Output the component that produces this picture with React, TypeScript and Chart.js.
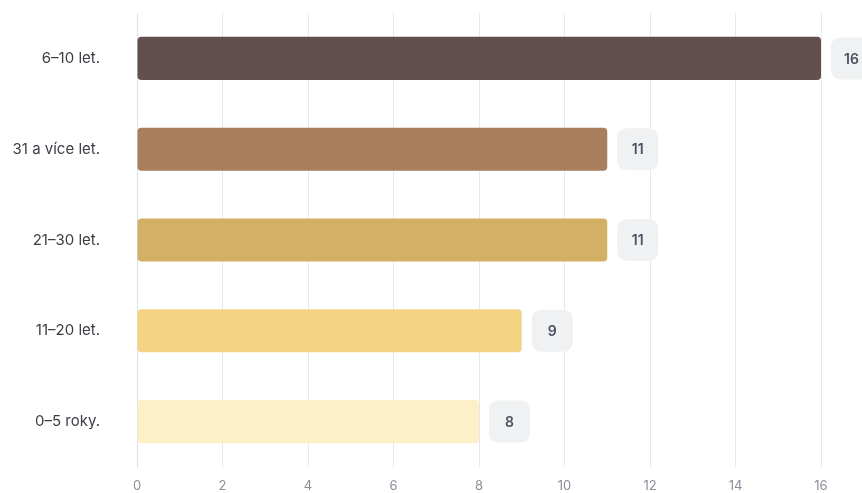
import React, { useEffect, useRef } from "react";
import { Chart, registerables } from "chart.js";

Chart.register(...registerables);

const categories = ["6–10 let.", "31 a více let.", "21–30 let.", "11–20 let.", "0–5 roky."];
const values = [16, 11, 11, 9, 8];
const barColors = ["#634f4d", "#a87e5c", "#d4b066", "#f5d384", "#fdefc8"];
const xTicks = [0, 2, 4, 6, 8, 10, 12, 14, 16];

const FONT = "Inter, 'Noto Sans', 'DejaVu Sans', sans-serif";

const valueBoxPlugin = {
  id: "valueBox",
  afterDatasetsDraw(chart: any) {
    const ctx = chart.ctx;
    const meta = chart.getDatasetMeta(0);
    ctx.save();
    meta.data.forEach((el: any, i: number) => {
      const w = 41;
      const h = 42;
      const x = el.x + 10;
      const y = el.y - h / 2;
      ctx.fillStyle = "#f0f1f2";
      ctx.beginPath();
      (ctx as any).roundRect(x, y, w, h, 9);
      ctx.fill();
      ctx.fillStyle = "#4b5261";
      ctx.font = `600 14px ${FONT}`;
      ctx.textAlign = "center";
      ctx.textBaseline = "middle";
      ctx.fillText(String(values[i]), x + w / 2, el.y + 1);
    });
    ctx.restore();
  },
};

export default function App() {
  const ref = useRef<HTMLCanvasElement | null>(null);
  useEffect(() => {
    document.body.style.margin = "0";
    const chart = new Chart(ref.current as HTMLCanvasElement, {
      type: "bar",
      data: {
        labels: categories,
        datasets: [
          {
            data: values,
            backgroundColor: barColors,
            borderRadius: 4,
            borderSkipped: false,
            barPercentage: 0.95,
            categoryPercentage: 0.5,
          },
        ],
      },
      options: {
        indexAxis: "y",
        responsive: false,
        animation: false,
        layout: { padding: { top: 13, right: 41, left: 0, bottom: 0 } },
        plugins: { legend: { display: false }, tooltip: { enabled: false } },
        scales: {
          x: {
            min: 0,
            max: 16,
            afterBuildTicks: (s: any) => {
              s.ticks = xTicks.map((v) => ({ value: v }));
            },
            afterFit: (s: any) => {
              s.height = 26;
            },
            grid: { color: "#e6e8eb", drawTicks: false },
            border: { display: false },
            ticks: {
              padding: 11,
              color: "#8a8f98",
              font: { family: FONT, size: 13 },
            },
          },
          y: {
            afterFit: (s: any) => {
              s.width = 137;
              s.paddingTop = 0;
              s.paddingBottom = 0;
            },
            grid: { display: false },
            border: { display: true, color: "#d9e1ef" },
            ticks: {
              padding: 29,
              color: "#3a3e44",
              font: { family: FONT, size: 15 },
            },
          },
        },
      },
      plugins: [valueBoxPlugin],
    });
    return () => chart.destroy();
  }, []);
  return <canvas ref={ref} width={862} height={493} style={{ display: "block" }} />;
}
